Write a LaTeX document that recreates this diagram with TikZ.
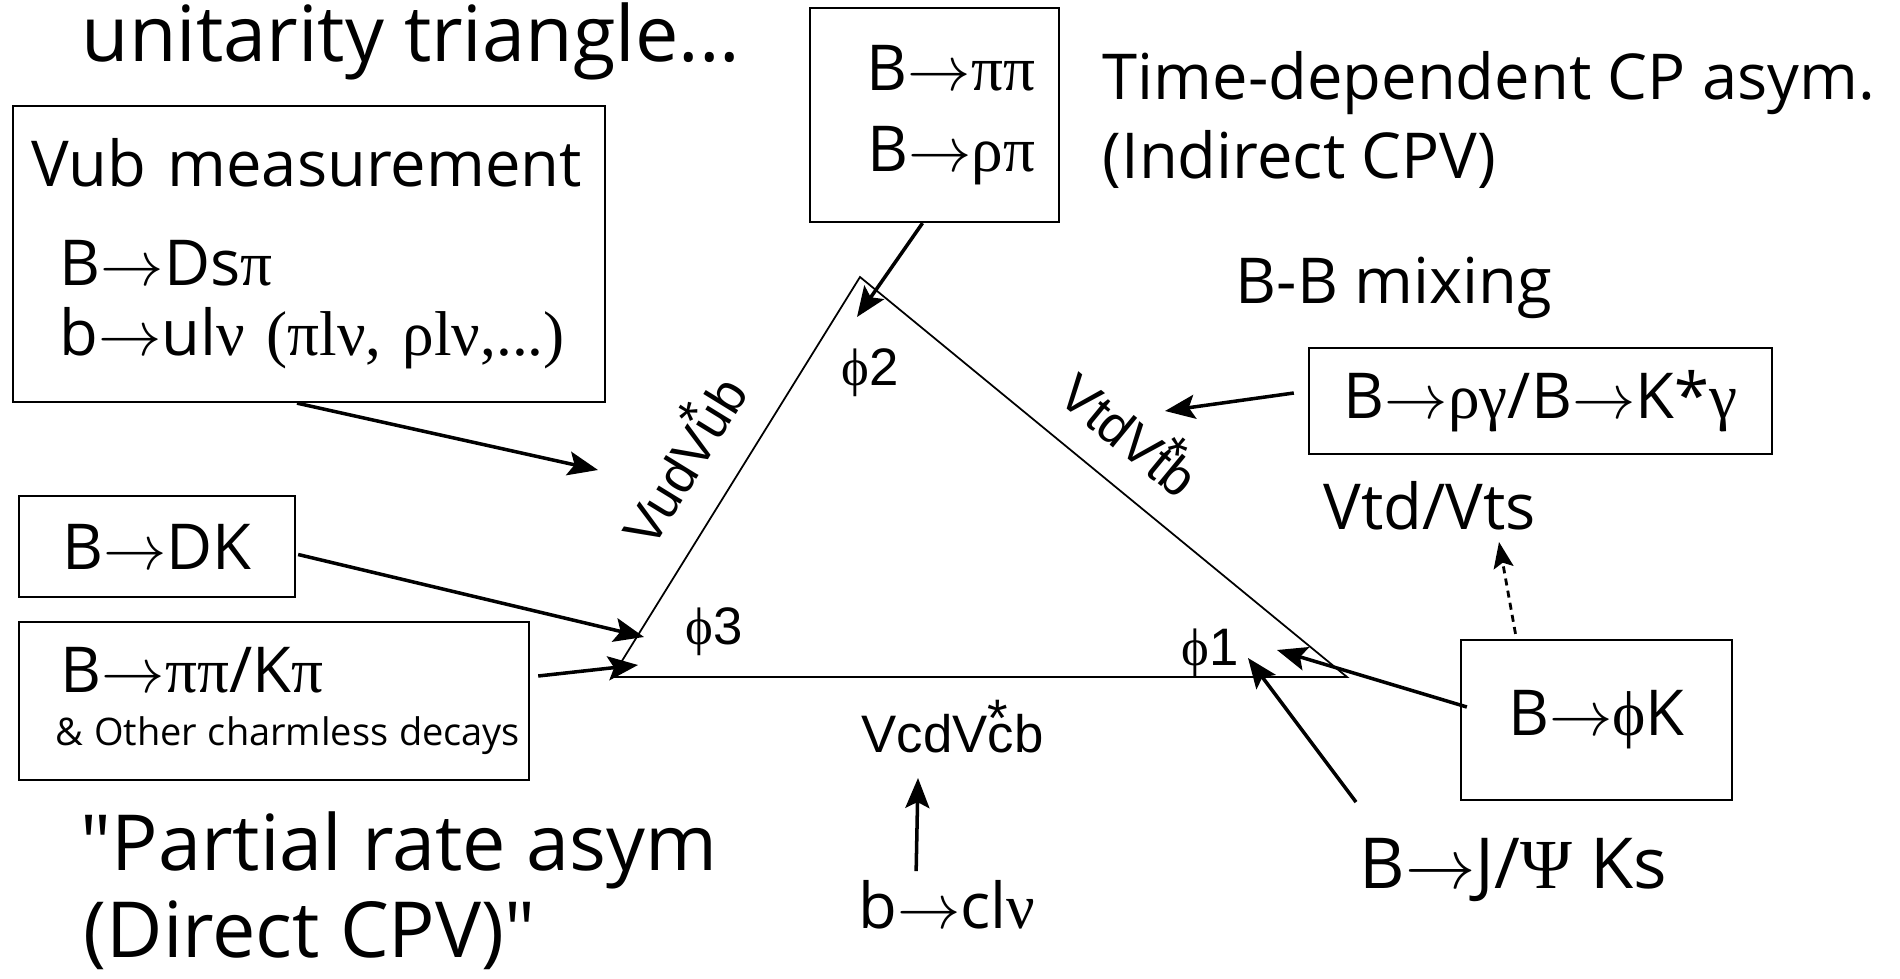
\RequirePackage{fix-cm}
\documentclass[tikz,border=0pt]{standalone}
\usepackage{fontspec}
\setmainfont{Open Sans}
\newfontfamily\opensans{Open Sans}
\newfontfamily\arialfont{Liberation Sans}
\newfontfamily\greekfont{Liberation Serif}
\usetikzlibrary{arrows.meta,positioning}
\newcommand{\bto}{\ensuremath{\rightarrow}}
\newcommand{\gk}[1]{{\greekfont #1}}
\newcommand{\ckmstar}{\makebox[0pt][l]{\raisebox{0.3em}{*}}}
\tikzset{
  bigtxt/.style={font=\fontsize{22}{26}\selectfont, inner sep=0pt},
  midtxt/.style={font=\fontsize{18}{22}\selectfont, inner sep=0pt},
  anglab/.style={font=\arialfont\fontsize{15}{17}\selectfont, inner sep=0pt},
  decaybox/.style={draw, line width=0.6pt, inner sep=0pt, font=\fontsize{18}{22}\selectfont},
  side/.style={line width=0.5pt},
  feed/.style={-{Stealth[length=3mm,width=2.4mm,inset=0.6mm]}, line width=1pt},
  hint/.style={-{Stealth[length=2.6mm,width=2mm,inset=0.5mm]}, line width=0.8pt, dash pattern=on 2pt off 1.5pt},
}
\begin{document}
\begin{tikzpicture}[x=0.01cm,y=-0.01cm]
\useasboundingbox (0,0) rectangle (1900,979);

% ---------- the triangle ----------
\coordinate (top) at (860,277);
\coordinate (lft) at (612,677);
\coordinate (rgt) at (1347,677);
\draw[side] (lft) -- (top) -- (rgt) -- cycle;

\node[anglab] (phi2) at (870,373) {\gk{ϕ}2};
\node[anglab] (phi3) at (714,632) {\gk{ϕ}3};
\node[anglab] (phi1) at (1210,653) {\gk{ϕ}1};
\node[anglab, rotate=58.4] (vublbl) at (679,458) {VudV\ckmstar ub};
\node[anglab, rotate=-39.4] (vtdlbl) at (1133,430) {VtdV\ckmstar tb};
\node[anglab, anchor=base west] (vcblbl) at (861,752) {VcdV\ckmstar cb};

% ---------- texts ----------
\node[bigtxt, anchor=base west] (title) at (81,62) {unitarity triangle...};
\node[midtxt, anchor=base west] (tdcp) at (1102,100) {Time-dependent CP asym.};
\node[midtxt, anchor=base west] (icpv) at (1102,179) {(Indirect CPV)};
\node[midtxt, anchor=base west] (mix) at (1235,304) {B-B mixing};
\node[midtxt, anchor=base west] (vtdts) at (1323,529) {Vtd/Vts};
\node[midtxt, font=\fontsize{20}{24}\selectfont, anchor=base west] (jpsi) at (1359,888) {B\bto J/\gk{Ψ} Ks};
\node[midtxt, anchor=base west] (bcl) at (858,928) {b\bto cl\gk{ν}};
\node[bigtxt, anchor=base west] (pra) at (80,870) {{\opensans"}Partial rate asym};
\node[bigtxt, anchor=base west] (dcpv) at (83,957) {(Direct CPV){\opensans"}};

% ---------- boxes ----------
\node[decaybox, minimum width=5.92cm, minimum height=2.96cm, text width=5.54cm, align=left] (vub) at (309,254)
  {Vub measurement\\[6pt]
   \hspace*{0.28cm}B\bto Ds\gk{π}\\[-2pt]
   \hspace*{0.28cm}b\bto ul\gk{ν} \gk{(πlν, ρlν,...)}};
\node[decaybox, minimum width=2.49cm, minimum height=2.14cm, text width=2.01cm, align=right] (pipi) at (934.5,115)
  {B\bto\gk{ππ}\\[1pt]B\bto\gk{ρπ}};
\node[decaybox, minimum width=4.63cm, minimum height=1.06cm] (rhog) at (1540.5,401) {B\bto\gk{ργ}/B\bto K*\gk{γ}};
\node[decaybox, minimum width=2.71cm, minimum height=1.6cm] (phik) at (1596.5,720) {B\bto\gk{ϕ}K};
\node[decaybox, minimum width=2.76cm, minimum height=1.01cm] (dk) at (157,546.5) {B\bto DK};
\node[decaybox, minimum width=5.10cm, minimum height=1.58cm, text width=4.9cm, align=left] (ppk) at (274,701)
  {\hspace*{0.32cm}B\bto\gk{ππ}/K\gk{π}\\[-7pt]
   \mbox{\hspace*{0.27cm}\fontsize{10.8}{12}\selectfont\&\hspace{0.28em}Other\hspace{0.28em}charmless\hspace{0.28em}decays}};

% ---------- arrows ----------
\coordinate (tipT) at (857,317);
\coordinate (tipU) at (598,470);
\coordinate (tipD) at (644,637);
\coordinate (tipP) at (638,665);
\coordinate (tipR) at (1165,411);
\coordinate (tipK) at (1277,650);
\coordinate (tipJ) at (1248,658);
\coordinate (tipV) at (1499,542);
\coordinate (tipC) at (918,778);
\draw[feed] ([shift={(-12,0)}]pipi.south) -- (tipT);
\draw[feed] ([shift={(-12,0)}]vub.south) -- (tipU);
\draw[feed] ([shift={(2,8)}]dk.east) -- (tipD);
\draw[feed] ([shift={(8,-25)}]ppk.east) -- (tipP);
\draw[feed] ([shift={(-14,-8)}]rhog.west) -- (tipR);
\draw[feed] ([shift={(7,-13)}]phik.west) -- (tipK);
\draw[feed] ([shift={(-3,-35)}]jpsi.north west) -- (tipJ);
\draw[feed] ([shift={(-31,-8)}]bcl.north) -- (tipC);
\draw[hint] ([shift={(-81,-5)}]phik.north) -- (tipV);

\end{tikzpicture}
\end{document}
